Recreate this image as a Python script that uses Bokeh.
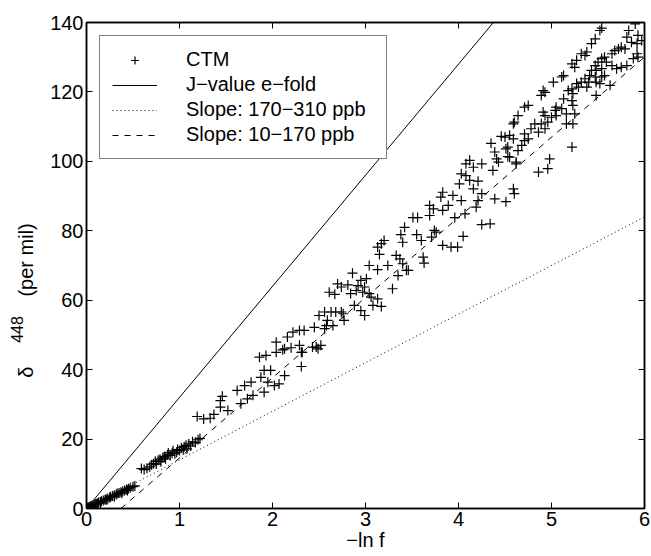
import math
from bokeh.plotting import figure
from bokeh.models import (Range1d, LinearAxis, FixedTicker, Legend, LegendItem,
                          CustomLabelingPolicy)
from bokeh.embed import file_html
from bokeh.resources import INLINE

# ---------------- data ----------------
x_ticks = [0, 1, 2, 3, 4, 5, 6]
y_ticks = [0, 20, 40, 60, 80, 100, 120, 140]

# fitted lines (slope in per mil per unit of -ln f)
jvalue_slope = 32.0
slope_170_310 = 14.0
slope_10_170 = 23.1
slope_10_170_x0 = 0.37

ctm_near_origin = [
    (0.005, 0.1), (0.01, 0.2), (0.015, 0.1), (0.02, 0.3), (0.03, 0.4), (0.04, 0.6),
    (0.05, 0.7), (0.06, 0.8), (0.07, 0.9), (0.08, 1.0), (0.09, 1.2), (0.10, 1.3),
    (0.11, 1.4), (0.12, 1.5), (0.13, 1.7), (0.15, 1.9), (0.15, 1.6), (0.16, 2.1),
    (0.18, 2.3), (0.20, 2.5), (0.21, 2.7), (0.22, 2.5), (0.23, 2.9), (0.25, 3.2),
    (0.26, 3.4), (0.28, 3.6), (0.30, 3.8), (0.30, 3.4), (0.32, 4.0), (0.33, 4.3),
    (0.35, 4.5), (0.37, 4.7), (0.38, 4.4), (0.39, 5.0), (0.41, 5.2), (0.43, 5.5),
    (0.44, 5.2), (0.45, 5.7), (0.47, 6.0), (0.50, 6.3), (0.52, 6.5),
]

ctm_band_1 = [
    (0.59, 11.5), (0.62, 11.2), (0.65, 11.6), (0.68, 12.0), (0.70, 12.6), (0.72, 12.9),
    (0.74, 13.6), (0.75, 12.8), (0.77, 13.9), (0.79, 14.2), (0.80, 13.5), (0.82, 14.6),
    (0.84, 15.0), (0.85, 14.3), (0.87, 15.4), (0.88, 16.0), (0.90, 15.3), (0.92, 15.9),
    (0.93, 16.6), (0.95, 15.8), (0.97, 16.2), (0.98, 17.0), (1.00, 16.7), (1.02, 17.5),
    (1.04, 16.9), (1.05, 17.8), (1.07, 18.2), (1.08, 17.2), (1.10, 18.6), (1.12, 18.0),
    (1.14, 19.2), (1.17, 19.0), (1.20, 19.8), (1.22, 20.2),
]

ctm_band_2 = [
    (1.19, 26.5), (1.26, 25.8), (1.33, 26.0), (1.37, 27.1), (1.44, 31.1), (1.44, 29.2),
    (1.46, 32.3), (1.52, 28.2), (1.62, 34.0), (1.66, 30.2), (1.70, 35.4), (1.73, 31.6),
    (1.77, 36.4), (1.79, 32.6), (1.875, 37.8), (1.91, 39.8), (1.98, 39.8), (1.95, 36.4),
    (1.91, 33.5), (2.02, 35.4), (2.07, 35.9), (2.13, 38.3), (1.86, 43.6), (1.93, 44.1),
    (2.04, 45.0), (2.11, 45.7), (2.20, 46.3), (2.29, 47.0), (2.31, 45.0), (2.31, 40.9),
    (2.04, 47.9), (2.43, 46.5), (2.49, 46.0),
]

ctm_band_3 = [
    (3.20, 77.2), (3.13, 75.3), (3.15, 73.2), (3.40, 76.7), (3.38, 78.9), (3.33, 72.9),
    (3.37, 71.9), (3.04, 70.0), (3.13, 68.8), (3.24, 70.0), (3.35, 67.1), (3.46, 68.6),
    (2.86, 67.8), (2.95, 65.7), (3.01, 66.2), (2.70, 64.7), (2.74, 63.8), (2.81, 64.4),
    (2.92, 64.2), (2.99, 63.8), (2.90, 62.8), (2.97, 62.3), (2.84, 61.9), (2.61, 62.3),
    (2.67, 61.7), (3.04, 61.9), (3.06, 60.9), (3.13, 60.4), (3.29, 63.3), (3.08, 58.5),
    (3.17, 58.2), (2.88, 58.5), (2.95, 57.0), (2.99, 55.6), (2.76, 56.1), (2.77, 54.2),
    (2.50, 55.6), (2.56, 56.6), (2.63, 56.6), (2.68, 56.6), (2.74, 56.6), (2.59, 54.2),
    (2.58, 52.7), (2.56, 51.8), (2.65, 52.7), (2.45, 52.2), (2.47, 46.5), (2.52, 47.0),
    (2.34, 51.3), (2.29, 51.3), (2.22, 50.8), (2.16, 49.4), (2.13, 46.0), (2.32, 45.0),
]

ctm_band_4 = [
    (4.46, 107.2), (4.55, 107.5), (4.59, 106.5), (4.35, 105.2), (4.39, 102.7), (4.51, 103.6),
    (4.41, 100.7), (4.43, 99.8), (4.53, 101.4), (4.62, 99.3), (4.37, 97.4), (4.08, 99.3),
    (4.12, 100.3), (4.16, 98.3), (4.25, 99.3), (4.03, 96.4), (4.08, 95.9), (4.01, 93.5),
    (4.12, 94.5), (4.21, 94.3), (4.16, 92.1), (4.59, 92.1), (4.60, 90.7), (4.25, 90.7),
    (4.39, 89.2), (4.51, 88.4), (3.83, 91.1), (3.81, 89.7), (3.94, 90.2), (4.03, 88.7),
    (4.21, 88.7), (3.69, 87.3), (3.73, 86.3), (3.83, 85.9), (3.89, 87.3), (4.19, 86.8),
    (4.07, 84.9), (3.51, 83.8), (3.56, 83.8), (3.69, 84.4), (3.96, 83.8), (4.25, 81.8),
    (4.34, 82.0), (3.42, 81.0), (3.55, 78.9), (3.60, 77.2), (3.71, 78.2), (3.74, 80.1),
    (3.76, 79.6), (4.05, 78.4), (3.83, 75.8), (3.92, 75.3), (3.99, 75.3), (3.17, 76.3),
    (3.62, 72.4), (3.63, 70.7), (3.40, 70.5), (3.44, 68.6),
]

ctm_band_5 = [
    (5.54, 138.4), (5.52, 137.7), (5.83, 137.7), (5.90, 139.6), (5.81, 135.8), (5.47, 135.3),
    (5.43, 133.9), (5.38, 131.5), (5.32, 131.0), (5.36, 130.5), (5.27, 129.1), (5.22, 128.1),
    (5.25, 127.1), (5.13, 124.7), (5.11, 124.3), (5.02, 122.8), (4.91, 120.4), (4.93, 119.9),
    (4.89, 119.0), (4.75, 116.1), (4.71, 115.6), (4.64, 113.2), (4.60, 111.3), (4.59, 110.8),
    (5.93, 136.3), (5.97, 134.8), (5.92, 133.9), (5.86, 134.3), (5.75, 132.9), (5.79, 132.4),
    (5.72, 132.4), (5.68, 131.9), (5.65, 131.0), (5.57, 130.0), (5.54, 129.6), (5.92, 131.0),
    (5.93, 130.0), (5.88, 129.6), (5.81, 127.6), (5.75, 127.1), (5.70, 126.7), (5.65, 127.6),
    (5.59, 128.6), (5.50, 128.6), (5.47, 127.6), (5.54, 126.7), (5.48, 126.2), (5.43, 126.2),
    (5.41, 124.7), (5.47, 124.3), (5.54, 124.3), (5.57, 124.7), (5.36, 123.8), (5.32, 122.8),
    (5.40, 122.8), (5.48, 122.8), (5.52, 122.4), (5.27, 122.4), (5.29, 121.4), (5.38, 121.4),
    (5.63, 121.9), (5.48, 119.0), (5.22, 120.9), (5.23, 119.5), (5.18, 120.4), (5.22, 117.5),
    (5.23, 116.1), (5.13, 118.0), (5.05, 115.6), (5.04, 114.7), (5.11, 115.2), (5.16, 113.7),
    (5.25, 113.7), (4.91, 114.2), (4.93, 113.2), (5.00, 112.7), (5.05, 113.2), (4.96, 111.3),
    (4.89, 110.8), (4.82, 110.8), (5.23, 110.8), (5.16, 110.8), (4.93, 109.4), (4.78, 109.4),
    (4.86, 108.4), (4.71, 107.9), (4.75, 106.5), (4.71, 106.0), (4.50, 107.0), (4.53, 104.1),
    (4.68, 104.6), (4.64, 103.1), (4.55, 101.2), (4.62, 99.8), (5.22, 104.1), (4.98, 100.7),
    (4.96, 97.9), (4.86, 96.9),
]

ctm_points = ctm_near_origin + ctm_band_1 + ctm_band_2 + ctm_band_3 + ctm_band_4 + ctm_band_5
ctm_x = [pt[0] for pt in ctm_points]
ctm_y = [pt[1] for pt in ctm_points]

line_x = [0.0, 6.0]
jvalue_y = [jvalue_slope * x for x in line_x]
dotted_y = [slope_170_310 * x for x in line_x]
dashed_x = [slope_10_170_x0, 6.0]
dashed_y = [slope_10_170 * (x - slope_10_170_x0) for x in dashed_x]

FONT = "Liberation Sans"
EM = "\u2003"   # em space (not collapsed), used to place the label pieces
EN = "\u2002"

p = figure(
    width=651, height=556,
    x_range=Range1d(0, 6), y_range=Range1d(0, 140),
    output_backend="svg", toolbar_location=None,
    min_border_left=86, min_border_right=7, min_border_top=22, min_border_bottom=48,
)
p.xgrid.visible = False
p.ygrid.visible = False
p.background_fill_color = "white"
p.border_fill_color = "white"
p.outline_line_color = "black"
p.outline_line_width = 1.5

hide_all_labels = CustomLabelingPolicy(code="""
const all = Array.from(indices);
for (const i of all) { indices.unset(i); }
return indices;
""")


def style_axis(ax, ticks, show_labels):
    ax.ticker = FixedTicker(ticks=ticks)
    ax.minor_tick_line_color = None
    ax.major_tick_in = 6
    ax.major_tick_out = 0
    ax.major_tick_line_color = "black"
    ax.major_tick_line_width = 1
    ax.axis_line_color = "black"
    ax.axis_line_width = 1.5
    ax.major_label_text_font = FONT
    ax.major_label_text_color = "black"
    if show_labels:
        ax.major_label_text_font_size = "20px"
        ax.major_label_standoff = 3
    else:
        ax.major_label_text_font_size = "0px"
        ax.major_label_standoff = 0
        ax.major_label_policy = hide_all_labels


def style_label(ax, size):
    ax.axis_label_text_font = FONT
    ax.axis_label_text_font_size = size
    ax.axis_label_text_font_style = "normal"
    ax.axis_label_text_color = "black"


style_axis(p.xaxis[0], x_ticks, True)
style_axis(p.yaxis[0], y_ticks, True)
p.xaxis[0].axis_label = "\u2212ln f"
style_label(p.xaxis[0], "20px")
p.xaxis[0].axis_label_standoff = 0

# y label: "δ ... (per mil)" on the main axis, trailing em spaces shift it down
p.yaxis[0].axis_label = "\u03b4" + EM * 3 + EN + "(per mil)" + EM * 3 + EN
style_label(p.yaxis[0], "20px")
p.yaxis[0].axis_label_standoff = 10

# superscript "448" on an extra, otherwise empty, left axis placed slightly outward
sup_axis = LinearAxis(ticker=FixedTicker(ticks=[]))
sup_axis.axis_line_color = None
sup_axis.major_tick_line_color = None
sup_axis.minor_tick_line_color = None
sup_axis.major_label_text_font_size = "0px"
sup_axis.major_label_standoff = 0
sup_axis.axis_label = "448" + EM * 8
style_label(sup_axis, "16px")
sup_axis.axis_label_standoff = -13
p.add_layout(sup_axis, "left")

top_axis = LinearAxis()
style_axis(top_axis, x_ticks, False)
p.add_layout(top_axis, "above")
right_axis = LinearAxis()
style_axis(right_axis, y_ticks, False)
p.add_layout(right_axis, "right")

r_ctm = p.scatter(ctm_x, ctm_y, marker="cross", size=10, line_color="black", line_width=1.2)
r_j = p.line(line_x, jvalue_y, line_color="black", line_width=1)
r_dot = p.line(line_x, dotted_y, line_color="black", line_width=1, line_dash="1 3")
r_dash = p.line(dashed_x, dashed_y, line_color="black", line_width=1, line_dash="6 6")

legend = Legend(
    items=[
        LegendItem(label="CTM", renderers=[r_ctm]),
        LegendItem(label="J\u2212value e\u2212fold", renderers=[r_j]),
        LegendItem(label="Slope: 170\u2212310 ppb", renderers=[r_dot]),
        LegendItem(label="Slope: 10\u2212170 ppb", renderers=[r_dash]),
    ],
    location="top_left",
    margin=13,
    padding=12,
    spacing=2,
    glyph_width=45,
    glyph_height=20,
    label_height=20,
    label_width=188,
    label_standoff=29,
    label_text_font=FONT,
    label_text_font_size="20px",
    label_text_color="black",
    border_line_color="black",
    border_line_width=1.5,
    background_fill_color="white",
    background_fill_alpha=1.0,
)
p.add_layout(legend)

open("out.html", "w").write(file_html(p, INLINE))
